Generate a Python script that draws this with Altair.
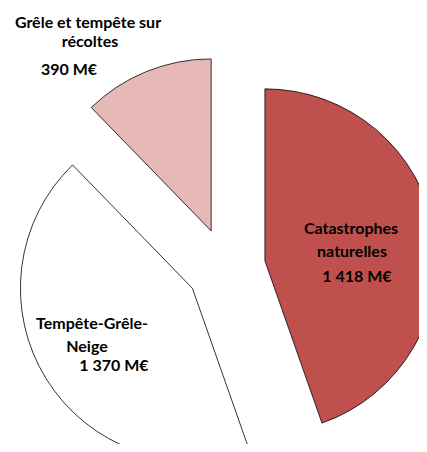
import altair as alt
import pandas as pd

# Slices (clockwise from 12 o'clock)
categories = ["Catastrophes naturelles", "Tempête-Grêle-Neige", "Grêle et tempête sur récoltes"]
values = [1418, 1370, 390]
colors = ["#C0504D", "#FFFFFF", "#E6B9B8"]

# Label lines (text, offset from the pie centre in px)
label_lines = ["Catastrophes", "naturelles", "1 418 M€",
               "Tempête-Grêle-", "Neige", "1 370 M€",
               "Grêle et tempête sur", "récoltes", "390 M€"]
label_dx = [125, 126, 131, -134, -139, -112, -138, -136, -157]
label_dy = [-38.5, -15.5, 9.5, 56.5, 79.5, 98.5, -244.5, -225.5, -197.5]

CX, CY = 218, 259.5     # pie centre (px, inside the plot area)
RADIUS = 172
EXPLODE = 39.5

df = pd.DataFrame({"cat": categories, "value": values, "order": list(range(len(values)))})

arcs = (
    alt.Chart(df)
    .transform_window(cum="sum(value)", sort=[alt.SortField("order")], frame=[None, 0])
    .transform_joinaggregate(total="sum(value)")
    .transform_calculate(
        t0="2*PI*(datum.cum - datum.value)/datum.total",
        t1="2*PI*datum.cum/datum.total",
    )
    .transform_calculate(mid="(datum.t0 + datum.t1)/2")
    .transform_calculate(
        px=f"{CX} + {EXPLODE}*sin(datum.mid)",
        py=f"{CY} - {EXPLODE}*cos(datum.mid)",
    )
    .mark_arc(outerRadius=RADIUS, stroke="#000000", strokeWidth=0.8)
    .encode(
        theta=alt.Theta("t0:Q", scale=None),
        theta2="t1:Q",
        x=alt.X("px:Q", scale=None),
        y=alt.Y("py:Q", scale=None),
        color=alt.Color("cat:N", scale=alt.Scale(domain=categories, range=colors), legend=None),
    )
)

ldf = pd.DataFrame({"text": label_lines, "dx": label_dx, "dy": label_dy})
labels = (
    alt.Chart(ldf)
    .transform_calculate(lx=f"{CX} + datum.dx", ly=f"{CY} + datum.dy")
    .mark_text(font="Lato", fontWeight="bold", fontSize=16, baseline="middle",
               align="center", color="#000000")
    .encode(x=alt.X("lx:Q", scale=None), y=alt.Y("ly:Q", scale=None), text="text:N")
)

chart = (
    alt.layer(arcs, labels)
    .properties(width=411, height=436, padding=0, autosize="none")
    .configure_view(stroke=None)
)

chart.save("out.html", embed_options={"renderer": "svg", "actions": False})
